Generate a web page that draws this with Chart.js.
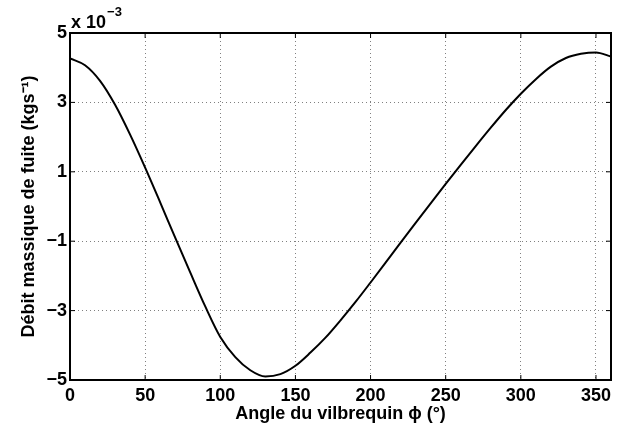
<!DOCTYPE html>
<html>
<head>
<meta charset="utf-8">
<script src="https://cdn.jsdelivr.net/npm/chart.js@4"></script>
<style>
    body { margin: 0; background: #fff; }
    canvas { display: block; }
</style>
</head>
<body>
<canvas id="chart" width="627" height="429"></canvas>
<script>
// crank angle (deg) and leak mass flow (x 1e-3 kg/s)
const angles = [0, 10, 20, 30, 40, 50, 60, 70, 80, 90, 100, 110, 120, 130, 140, 150, 160, 170, 180,
                190, 200, 210, 220, 230, 240, 250, 260, 270, 280, 290, 300, 310, 320, 330, 340, 350, 360];
const flow = [4.27, 4.07, 3.62, 2.93, 2.07, 1.12, 0.12, -0.90, -1.90, -2.88, -3.76, -4.34, -4.72, -4.90, -4.83, -4.59, -4.21, -3.78, -3.28,
              -2.75, -2.19, -1.62, -1.04, -0.47, 0.09, 0.65, 1.20, 1.74, 2.27, 2.78, 3.25, 3.67, 4.03, 4.28, 4.40, 4.44, 4.32];

const xTicks = [0, 50, 100, 150, 200, 250, 300, 350];
const yTicks = [-5, -3, -1, 1, 3, 5];

const FONT = "'Liberation Sans', Arial, sans-serif";

// MATLAB-like box with inward ticks on all four sides, plus the exponent label
const boxPlugin = {
    id: "box",
    afterDraw(chart) {
        const { ctx, chartArea: a, scales } = chart;
        ctx.save();
        ctx.strokeStyle = "#000";
        ctx.lineWidth = 2;
        ctx.strokeRect(a.left, a.top, a.right - a.left, a.bottom - a.top);
        ctx.lineWidth = 1;
        ctx.beginPath();
        xTicks.forEach(t => {
            const x = scales.x.getPixelForValue(t);
            ctx.moveTo(x, a.bottom); ctx.lineTo(x, a.bottom - 5);
            ctx.moveTo(x, a.top); ctx.lineTo(x, a.top + 5);
        });
        yTicks.forEach(t => {
            const y = scales.y.getPixelForValue(t);
            ctx.moveTo(a.left, y); ctx.lineTo(a.left + 5, y);
            ctx.moveTo(a.right, y); ctx.lineTo(a.right - 5, y);
        });
        ctx.stroke();

        ctx.fillStyle = "#000";
        ctx.textBaseline = "alphabetic";
        ctx.textAlign = "left";
        ctx.font = "bold 18px " + FONT;
        ctx.fillText("x 10", a.left + 1, a.top - 5);
        const w = ctx.measureText("x 10").width;
        ctx.font = "bold 13px " + FONT;
        ctx.fillText("\u22123", a.left + w + 2, a.top - 17);
        ctx.restore();
    }
};

new Chart(document.getElementById("chart"), {
    type: "line",
    data: {
        labels: angles,
        datasets: [{
            data: angles.map((a, i) => ({ x: a, y: flow[i] })),
            borderColor: "#000",
            borderWidth: 2,
            pointRadius: 0,
            cubicInterpolationMode: "monotone",
            fill: false,
        }]
    },
    options: {
        responsive: false,
        animation: false,
        layout: { padding: { top: 33, right: 16, left: 0, bottom: 0 } },
        plugins: { legend: { display: false }, tooltip: { enabled: false } },
        scales: {
            x: {
                type: "linear",
                min: 0,
                max: 360,
                afterBuildTicks: s => { s.ticks = xTicks.map(v => ({ value: v })); },
                afterFit: s => { s.height = 49; },
                grid: { color: "#808080", drawTicks: false },
                border: { display: false, dash: [1, 3] },
                ticks: { color: "#000", padding: 5, maxRotation: 0, font: { family: FONT, size: 18, weight: 700 } },
                title: {
                    display: true,
                    text: "Angle du vilbrequin \u03d5 (\u00b0)",
                    color: "#000",
                    padding: { top: 0, bottom: 4 },
                    font: { family: FONT, size: 18, weight: 700 }
                }
            },
            y: {
                min: -5,
                max: 5,
                afterBuildTicks: s => { s.ticks = yTicks.map(v => ({ value: v })); },
                afterFit: s => { s.width = 70; },
                grid: { color: "#808080", drawTicks: false },
                border: { display: false, dash: [1, 3] },
                ticks: {
                    color: "#000",
                    padding: 3,
                    font: { family: FONT, size: 18, weight: 700 },
                    callback: v => String(v).replace("-", "\u2212")
                },
                title: {
                    display: true,
                    text: "D\u00e9bit massique de fuite (kgs\u207b\u00b9)",
                    color: "#000",
                    padding: { top: 18, bottom: 0 },
                    font: { family: FONT, size: 18, weight: 700 }
                }
            }
        }
    },
    plugins: [boxPlugin]
});
</script>
</body>
</html>
